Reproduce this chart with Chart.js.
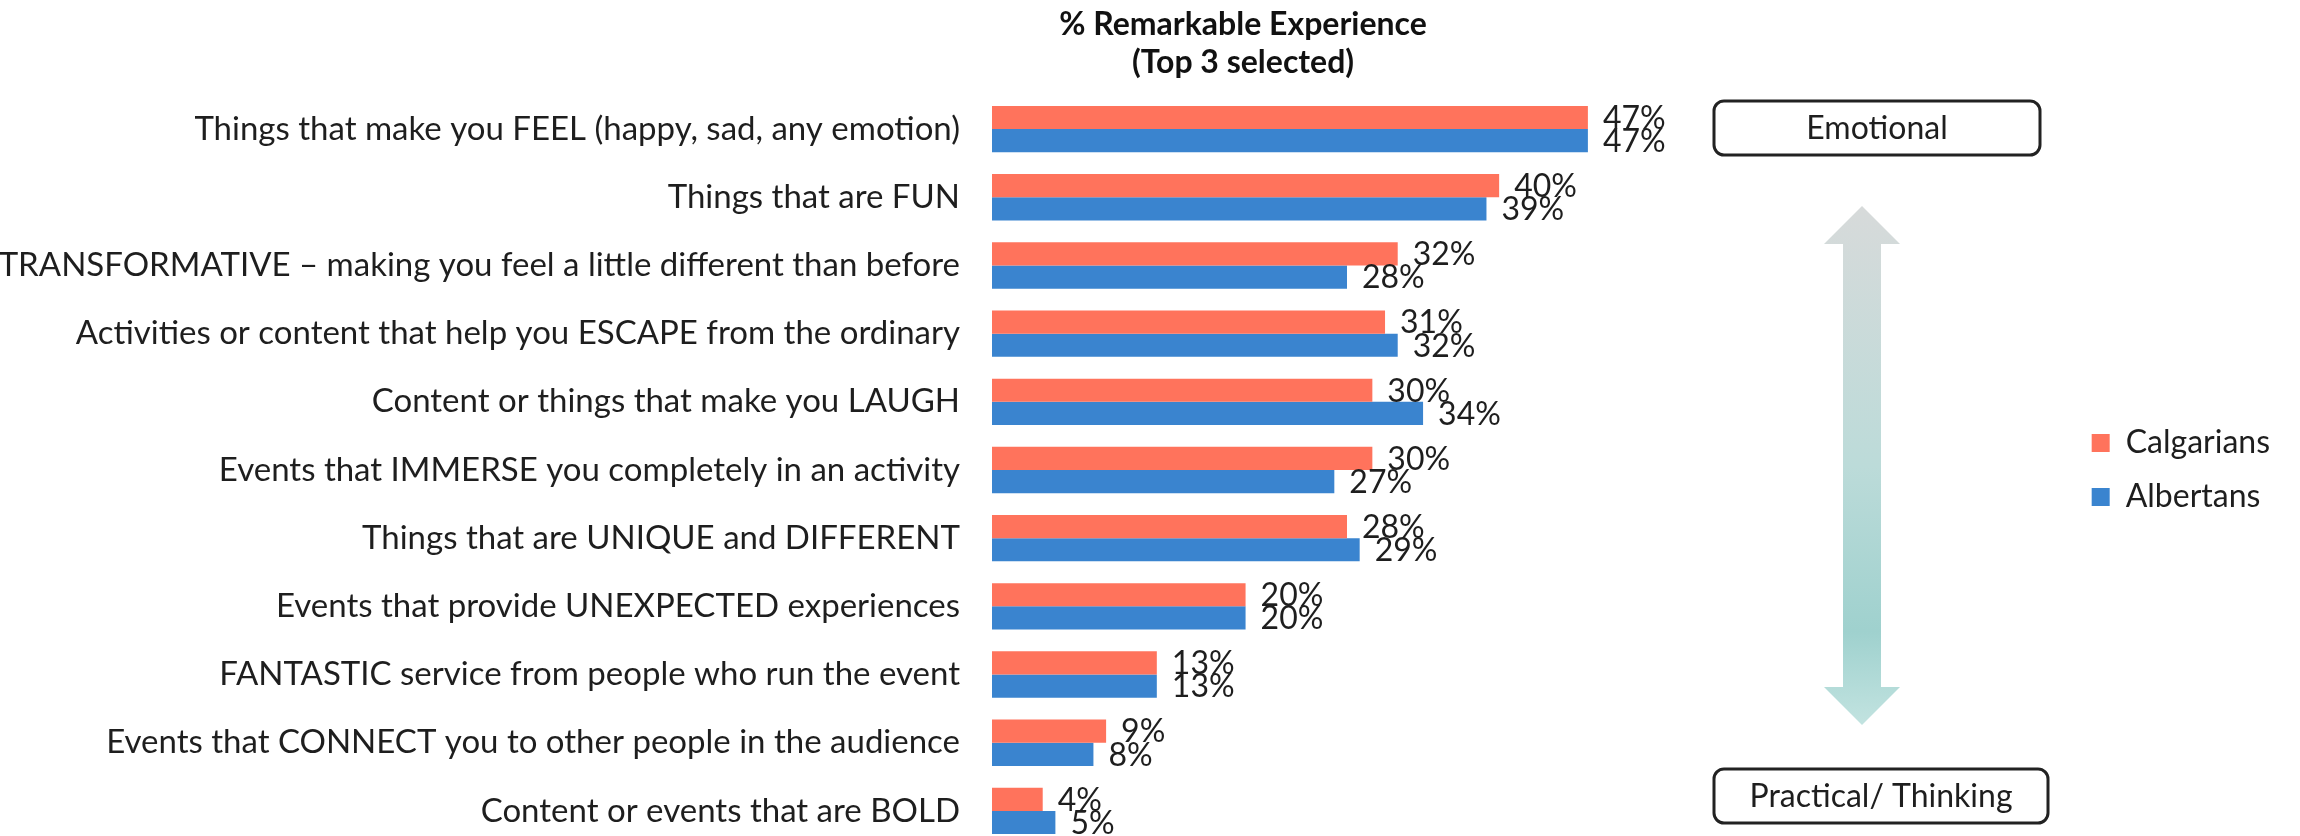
<!DOCTYPE html>
<html>
<head>
<meta charset="utf-8">
<title>% Remarkable Experience</title>
<script src="https://cdn.jsdelivr.net/npm/chart.js@4.4.1/dist/chart.umd.min.js"></script>
<style>
  html, body { margin: 0; padding: 0; background: #fff; overflow: hidden; }
  canvas { display: block; }
</style>
</head>
<body>
<canvas id="remarkChart" width="2300" height="850"></canvas>
<script>
// data
const categories = [
  'Things that make you FEEL (happy, sad, any emotion)',
  'Things that are FUN',
  'TRANSFORMATIVE \u2013 making you feel a little different than before',
  'Activities or content that help you ESCAPE from the ordinary',
  'Content or things that make you LAUGH',
  'Events that IMMERSE you completely in an activity',
  'Things that are UNIQUE and DIFFERENT',
  'Events that provide UNEXPECTED experiences',
  'FANTASTIC service from people who run the event',
  'Events that CONNECT you to other people in the audience',
  'Content or events that are BOLD'
];
const calgarians = [47, 40, 32, 31, 30, 30, 28, 20, 13, 9, 4];
const albertans = [47, 39, 28, 32, 34, 27, 29, 20, 13, 8, 5];
const seriesNames = ['Calgarians', 'Albertans'];
const titleLines = ['% Remarkable Experience', '(Top 3 selected)'];
const scaleLabels = ['Emotional', 'Practical/ Thinking'];

const TEXT = '#1e1e1e';
const FONT = 'Lato, "Open Sans", sans-serif';

// two-line title, centred over the left part of the bars
const chartTitle = {
  id: 'chartTitle',
  afterDraw(chart) {
    const ctx = chart.ctx;
    ctx.save();
    ctx.font = 'bold 32px ' + FONT;
    ctx.fillStyle = '#111';
    ctx.textAlign = 'center';
    ctx.textBaseline = 'middle';
    titleLines.forEach((line, i) => ctx.fillText(line, 1243, 25 + i * 38));
    ctx.restore();
  }
};

// percentage at the end of each bar
const valueLabels = {
  id: 'valueLabels',
  afterDatasetsDraw(chart) {
    const ctx = chart.ctx;
    ctx.save();
    ctx.font = '32px ' + FONT;
    ctx.fillStyle = TEXT;
    ctx.textBaseline = 'middle';
    chart.data.datasets.forEach((ds, i) => {
      chart.getDatasetMeta(i).data.forEach((bar, j) => {
        ctx.fillText(ds.data[j] + '%', bar.x + 15, bar.y + 1);
      });
    });
    ctx.restore();
  }
};

// Emotional / Practical boxes with the double arrow between them
const sidePanel = {
  id: 'sidePanel',
  afterDraw(chart) {
    const ctx = chart.ctx;
    ctx.save();

    const cx = 1862, top = 206, bottom = 725, headW = 76, shaftW = 38, headH = 38;
    const grad = ctx.createLinearGradient(0, top, 0, bottom);
    grad.addColorStop(0, '#d7dada');
    grad.addColorStop(0.5, '#bcdbd9');
    grad.addColorStop(0.82, '#9fd1ce');
    grad.addColorStop(1, '#c2e3e0');
    ctx.beginPath();
    ctx.moveTo(cx, top);
    ctx.lineTo(cx + headW / 2, top + headH);
    ctx.lineTo(cx + shaftW / 2, top + headH);
    ctx.lineTo(cx + shaftW / 2, bottom - headH);
    ctx.lineTo(cx + headW / 2, bottom - headH);
    ctx.lineTo(cx, bottom);
    ctx.lineTo(cx - headW / 2, bottom - headH);
    ctx.lineTo(cx - shaftW / 2, bottom - headH);
    ctx.lineTo(cx - shaftW / 2, top + headH);
    ctx.lineTo(cx - headW / 2, top + headH);
    ctx.closePath();
    ctx.fillStyle = grad;
    ctx.fill();

    const boxes = [
      { text: scaleLabels[0], x: 1714, y: 101, w: 326, h: 54 },
      { text: scaleLabels[1], x: 1714, y: 769, w: 334, h: 54 }
    ];
    ctx.lineWidth = 3;
    ctx.strokeStyle = '#222';
    ctx.fillStyle = TEXT;
    ctx.font = '32px ' + FONT;
    ctx.textAlign = 'center';
    ctx.textBaseline = 'middle';
    boxes.forEach(b => {
      ctx.beginPath();
      ctx.roundRect(b.x, b.y, b.w, b.h, 10);
      ctx.stroke();
      ctx.fillText(b.text, b.x + b.w / 2, b.y + b.h / 2 + 1);
    });
    ctx.restore();
  }
};

new Chart(document.getElementById('remarkChart'), {
  type: 'bar',
  data: {
    labels: categories,
    datasets: [
      { label: seriesNames[0], data: calgarians, backgroundColor: '#ff735c' },
      { label: seriesNames[1], data: albertans, backgroundColor: '#3a84cf' }
    ]
  },
  options: {
    indexAxis: 'y',
    responsive: false,
    animation: false,
    layout: { padding: { left: 0, right: 20, top: 95, bottom: 5 } },
    datasets: { bar: { categoryPercentage: 0.68, barPercentage: 1 } },
    scales: {
      x: { display: false, min: 0, max: 85 },
      y: {
        grid: { display: false },
        border: { display: false },
        ticks: { font: { family: FONT, size: 33 }, color: TEXT, padding: 24 },
        afterFit(scale) {
          // fixed label column; no extra room reserved above/below the bands
          scale.width = 992;
          scale.paddingTop = 0;
          scale.paddingBottom = 0;
        }
      }
    },
    plugins: {
      legend: {
        position: 'right',
        labels: {
          font: { family: FONT, size: 32 },
          color: TEXT,
          boxWidth: 18,
          boxHeight: 18,
          padding: 22
        }
      },
      tooltip: { enabled: false }
    }
  },
  plugins: [chartTitle, valueLabels, sidePanel]
});
</script>
</body>
</html>
